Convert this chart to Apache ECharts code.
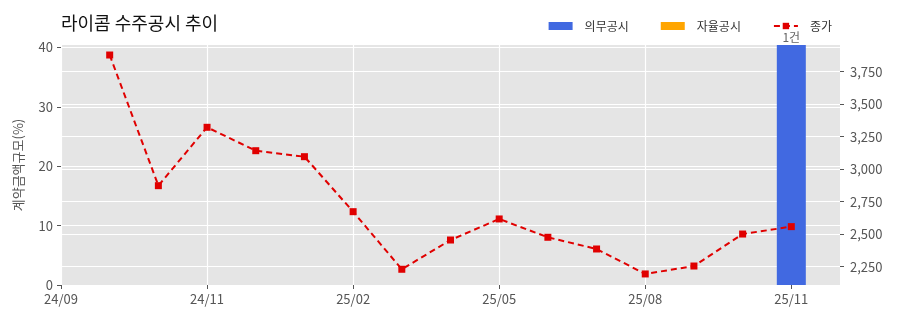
<!DOCTYPE html>
<html><head><meta charset="utf-8">
<script src="https://cdn.jsdelivr.net/npm/echarts@6/dist/echarts.min.js"></script>
<style>html,body{margin:0;padding:0;background:#fff}#c{width:900px;height:323px}</style>
</head><body><div id="c"></div>
<script>
// categories: monthly slots (first and last are empty padding slots)
const categories = ['24/08','24/09','24/10','24/11','24/12','25/01','25/02','25/03','25/04','25/05','25/06','25/07','25/08','25/09','25/10','25/11','25/12'];
const tickLabels = ['24/09','24/11','25/02','25/05','25/08','25/11'];
const mandatory = [null,null,null,null,null,null,null,null,null,null,null,null,null,null,null,40.4,null];
const voluntary = [null,null,null,null,null,null,null,null,null,null,null,null,null,null,null,null,null];
const barLabels = {15:'1건'};
const closePrice = [null,3878,2873,3322,3142,3096,2673,2230,2455,2617,2476,2386,2194,2255,2501,2558,null];
const leftTicks = [0,10,20,30,40];
const rightTicks = [2250,2500,2750,3000,3250,3500,3750];
const leftMin = 0, leftMax = 40.4, rightMin = 2109, rightMax = 3955;

const FONT = '"Noto Sans CJK KR","Noto Sans",sans-serif';
const chart = echarts.init(document.getElementById('c'), null, {renderer:'canvas'});
const axisTxt = {color:'#555', fontSize:13, fontFamily:FONT};
chart.setOption({
  animation:false,
  textStyle:{fontFamily:FONT},
  title:{text:'라이콤 수주공시 추이', left:56, top:9, textStyle:{fontSize:18, fontWeight:'normal', color:'#111', fontFamily:FONT}},
  legend:{right:63, top:15, itemWidth:24, itemHeight:8, itemGap:32, textStyle:{color:'#333', fontSize:12, fontFamily:FONT, padding:[0,0,0,7]},
    data:[{name:'의무공시', icon:'rect'},{name:'자율공시', icon:'rect'},{name:'종가'}]},
  grid:{left:61, right:60, top:45, bottom:38, show:true, backgroundColor:'#e5e5e5', borderWidth:0},
  xAxis:{type:'category', data:categories, boundaryGap:false,
    axisLine:{show:false},
    axisTick:{show:true, length:4, lineStyle:{color:'#555'}, interval:(i)=>i%3===0},
    splitLine:{show:true, interval:(i)=>i%3===0, lineStyle:{color:'#fff', width:1.2}},
    axisLabel:{...axisTxt, interval:(i)=>i%3===0, margin:8, formatter:(v,i)=>tickLabels[i/3] || ''}},
  yAxis:[
    {type:'value', min:leftMin, max:leftMax, name:'계약금액규모(%)', nameLocation:'middle', nameGap:36,
     nameTextStyle:{color:'#555', fontSize:13, fontFamily:FONT},
     axisLine:{show:false}, axisTick:{show:true, length:4, lineStyle:{color:'#555'}, customValues:leftTicks},
     axisLabel:{...axisTxt, margin:8, customValues:leftTicks},
     splitLine:{show:true, lineStyle:{color:'#fff', width:1.2}}},
    {type:'value', min:rightMin, max:rightMax, position:'right',
     axisLine:{show:false}, axisTick:{show:true, length:4, lineStyle:{color:'#555'}, customValues:rightTicks},
     axisLabel:{...axisTxt, margin:10, customValues:rightTicks, formatter:(v)=>Number(v).toLocaleString('en-US')},
     splitLine:{show:true, lineStyle:{color:'#fff', width:1.2}}}
  ],
  series:[
    {name:'의무공시', type:'bar', stack:'d', yAxisIndex:0, data:mandatory, barWidth:29, itemStyle:{color:'#4169e1'},
     label:{show:true, position:'top', distance:2, color:'#666', fontSize:12, formatter:(p)=>barLabels[p.dataIndex]||''}},
    {name:'자율공시', type:'bar', stack:'d', yAxisIndex:0, data:voluntary, barWidth:29, itemStyle:{color:'#ffa500'}},
    {name:'종가', type:'line', yAxisIndex:1, data:closePrice, symbol:'rect', symbolSize:7,
     lineStyle:{color:'#e00000', width:2, type:[6,4]}, itemStyle:{color:'#e00000'}, z:5}
  ]
});
</script></body></html>
